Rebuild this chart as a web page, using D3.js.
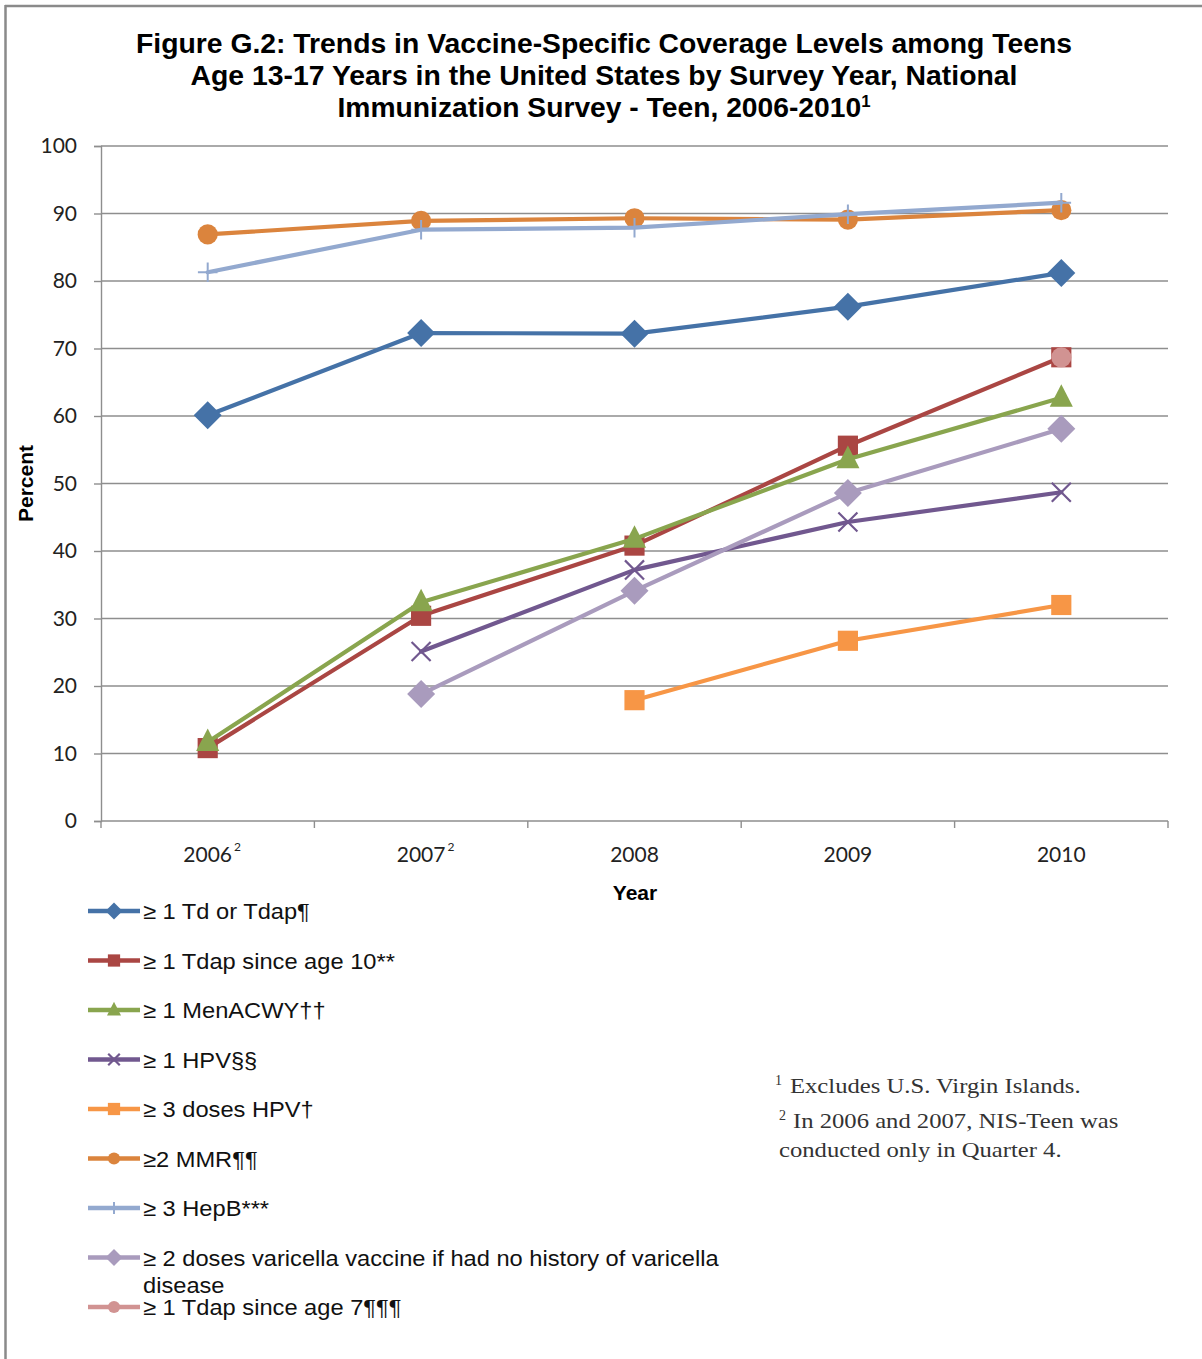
<!DOCTYPE html>
<html>
<head>
<meta charset="utf-8">
<script src="https://cdn.jsdelivr.net/npm/d3@7"></script>
<style>
  html, body { margin: 0; padding: 0; background: #fff; }
  svg { display: block; }
</style>
</head>
<body>
<svg id="chart" width="1202" height="1359"></svg>
<script>
// ---------------- DATA ----------------
const years = ["2006", "2007", "2008", "2009", "2010"];
const yearSup = ["2", "2", "", "", ""];
const yTicks = [0, 10, 20, 30, 40, 50, 60, 70, 80, 90, 100];

const seriesNames = [
  "\u2265 1 Td or Tdap\u00B6",
  "\u2265 1 Tdap since age 10**",
  "\u2265 1 MenACWY\u2020\u2020",
  "\u2265 1 HPV\u00A7\u00A7",
  "\u2265 3 doses HPV\u2020",
  "\u22652 MMR\u00B6\u00B6",
  "\u2265 3 HepB***",
  "\u2265 2 doses varicella vaccine if had no history of varicella disease",
  "\u2265 1 Tdap since age 7\u00B6\u00B6\u00B6"
];
const tdTdap    = [60.1, 72.3, 72.2, 76.2, 81.2];
const tdap10    = [10.8, 30.4, 40.8, 55.6, 68.7];
const menacwy   = [11.7, 32.4, 41.8, 53.6, 62.7];
const hpv1      = [null, 25.1, 37.2, 44.3, 48.7];
const hpv3      = [null, null, 17.9, 26.7, 32.0];
const mmr       = [86.9, 88.9, 89.3, 89.1, 90.5];
const hepb      = [81.3, 87.6, 87.9, 89.9, 91.6];
const varicella = [null, 18.8, 34.1, 48.6, 58.1];
const tdap7     = [null, null, null, null, 68.7];

const seriesValues = [tdTdap, tdap10, menacwy, hpv1, hpv3, mmr, hepb, varicella, tdap7];
const seriesColors = ["#4572A7", "#AA4643", "#89A54E", "#71588F", "#F79646", "#DB843D", "#93A9CF", "#A99BBD", "#D19392"];
const seriesMarkers = ["diamond", "square", "triangle", "x", "square", "circle", "plus", "diamond", "circle"];

const titleLines = [
  "Figure G.2: Trends in Vaccine-Specific Coverage Levels among Teens",
  "Age 13-17 Years in the United States by Survey Year, National",
  "Immunization Survey - Teen, 2006-2010"
];

const footnoteLines = [
  "Excludes U.S. Virgin Islands.",
  "In 2006 and 2007, NIS-Teen was",
  "conducted only in Quarter 4."
];

// ---------------- LAYOUT ----------------
const svg = d3.select("#chart");
const plot = { left: 101, right: 1168, top: 146, bottom: 821 };

const x = d3.scaleBand().domain(years).range([plot.left, plot.right]).paddingInner(0).paddingOuter(0);
const y = d3.scaleLinear().domain([0, 100]).range([plot.bottom, plot.top]);

function stretch(sel, k) {
  const w = sel.node().getComputedTextLength();
  sel.attr("textLength", w * k).attr("lengthAdjust", "spacingAndGlyphs");
}

// frame (top + left border)
svg.append("line").attr("x1", 5).attr("x2", 1202).attr("y1", 6).attr("y2", 6)
  .attr("stroke", "#8a8a8a").attr("stroke-width", 2.5);
svg.append("line").attr("x1", 5.5).attr("x2", 5.5).attr("y1", 5).attr("y2", 1359)
  .attr("stroke", "#8a8a8a").attr("stroke-width", 2.5);

// title
const titleFont = "'Liberation Sans', Arial, sans-serif";
const titleWidths = [936, 827, 533];
titleLines.forEach((t, i) => {
  const tx = svg.append("text")
    .attr("x", 604).attr("y", 53 + i * 32)
    .attr("text-anchor", "middle")
    .attr("font-family", titleFont)
    .attr("font-weight", "bold")
    .attr("font-size", 27)
    .attr("fill", "#000")
    .attr("textLength", titleWidths[i])
    .attr("lengthAdjust", "spacingAndGlyphs")
    .text(t);
  if (i === 2) {
    tx.append("tspan").attr("font-size", 16).attr("dy", -10).text("1");
  }
});

// gridlines
const grid = svg.append("g");
grid.selectAll("line").data(yTicks.filter(d => d > 0)).join("line")
  .attr("x1", plot.left).attr("x2", plot.right)
  .attr("y1", d => y(d)).attr("y2", d => y(d))
  .attr("stroke", "#8e8e8e").attr("stroke-width", 1.4);

// Y axis
const tickFont = "Lato, 'Open Sans', sans-serif";
const yAxis = svg.append("g").attr("transform", `translate(${plot.left},0)`)
  .call(d3.axisLeft(y).tickValues(yTicks).tickSize(7).tickPadding(17));
yAxis.select(".domain").attr("stroke", "#8e8e8e").attr("stroke-width", 1.4);
yAxis.selectAll(".tick line").attr("stroke", "#8e8e8e").attr("stroke-width", 1.4);
yAxis.selectAll(".tick text").attr("font-family", tickFont).attr("font-size", 21).attr("fill", "#222");

// X axis
const xEdges = years.map(d => x(d)).concat([plot.right]);
const xAxisG = svg.append("g");
xAxisG.append("line").attr("x1", plot.left).attr("x2", plot.right)
  .attr("y1", plot.bottom).attr("y2", plot.bottom)
  .attr("stroke", "#8e8e8e").attr("stroke-width", 1.4);
xAxisG.selectAll("line.tk").data(xEdges).join("line").attr("class", "tk")
  .attr("x1", d => d).attr("x2", d => d)
  .attr("y1", plot.bottom).attr("y2", plot.bottom + 7)
  .attr("stroke", "#8e8e8e").attr("stroke-width", 1.4);
years.forEach((yr, i) => {
  const cx = x(yr) + x.bandwidth() / 2;
  const t = xAxisG.append("text")
    .attr("x", cx).attr("y", 862)
    .attr("text-anchor", "middle")
    .attr("font-family", tickFont).attr("font-size", 21).attr("fill", "#222")
    .text(yr);
  if (yearSup[i]) {
    const w = t.node().getComputedTextLength();
    xAxisG.append("text")
      .attr("x", cx + w / 2 + 2).attr("y", 851)
      .attr("font-family", tickFont).attr("font-size", 12).attr("fill", "#222")
      .text(yearSup[i]);
  }
});

// axis titles
svg.append("text").attr("x", 635).attr("y", 900).attr("text-anchor", "middle")
  .attr("font-family", titleFont).attr("font-weight", "bold").attr("font-size", 21).text("Year");
svg.append("text").attr("transform", `translate(33,${(plot.top + plot.bottom) / 2}) rotate(-90)`)
  .attr("text-anchor", "middle")
  .attr("font-family", titleFont).attr("font-weight", "bold").attr("font-size", 21).text("Percent");

// ---------------- MARKERS ----------------
function drawMarker(g, type, cx, cy, s, color) {
  const h = s / 2;
  if (type === "diamond") {
    g.append("path").attr("d", `M${cx},${cy - h}L${cx + h},${cy}L${cx},${cy + h}L${cx - h},${cy}Z`).attr("fill", color);
  } else if (type === "square") {
    const q = h * 0.72;
    g.append("rect").attr("x", cx - q).attr("y", cy - q).attr("width", 2 * q).attr("height", 2 * q).attr("fill", color);
  } else if (type === "triangle") {
    const q = h * 0.75;
    g.append("path").attr("d", `M${cx},${cy - q * 1.3}L${cx + q * 1.1},${cy + q * 0.85}L${cx - q * 1.1},${cy + q * 0.85}Z`).attr("fill", color);
  } else if (type === "circle") {
    g.append("circle").attr("cx", cx).attr("cy", cy).attr("r", h * 0.72).attr("fill", color);
  } else if (type === "x") {
    const q = h * 0.68;
    g.append("path").attr("d", `M${cx - q},${cy - q}L${cx + q},${cy + q}M${cx - q},${cy + q}L${cx + q},${cy - q}`)
      .attr("stroke", color).attr("stroke-width", 2.2).attr("fill", "none");
  } else if (type === "plus") {
    const q = h * 0.7;
    g.append("path").attr("d", `M${cx - q},${cy}L${cx + q},${cy}M${cx},${cy - q}L${cx},${cy + q}`)
      .attr("stroke", color).attr("stroke-width", 2).attr("fill", "none");
  }
}

// ---------------- SERIES ----------------
const line = d3.line()
  .defined(d => d.v !== null)
  .x(d => x(d.yr) + x.bandwidth() / 2)
  .y(d => y(d.v));

const seriesG = svg.append("g");
seriesValues.forEach((vals, si) => {
  const pts = vals.map((v, i) => ({ yr: years[i], v }));
  const g = seriesG.append("g");
  g.append("path").attr("d", line(pts)).attr("fill", "none")
    .attr("stroke", seriesColors[si]).attr("stroke-width", 4.2)
    .attr("stroke-linejoin", "round").attr("stroke-linecap", "round");
  pts.filter(p => p.v !== null).forEach(p => {
    drawMarker(g, seriesMarkers[si], x(p.yr) + x.bandwidth() / 2, y(p.v), 28, seriesColors[si]);
  });
});

// ---------------- LEGEND ----------------
const legendFont = "'Liberation Sans', Arial, sans-serif";
const legend = svg.append("g");
const rowY0 = 911, rowStep = 49.5, legendStretch = 1.075;
seriesNames.forEach((name, i) => {
  const cy = rowY0 + i * rowStep;
  const g = legend.append("g");
  g.append("line").attr("x1", 88).attr("x2", 140).attr("y1", cy).attr("y2", cy)
    .attr("stroke", seriesColors[i]).attr("stroke-width", 4.5);
  drawMarker(g, seriesMarkers[i], 114, cy, 17, seriesColors[i]);
  if (i === 7) {
    const words = name.split(" ");
    const first = words.slice(0, -1).join(" ");
    const last = words[words.length - 1];
    const t1 = g.append("text").attr("x", 143).attr("y", cy + 8)
      .attr("font-family", legendFont).attr("font-size", 22).attr("fill", "#111").text(first);
    stretch(t1, legendStretch);
    const t2 = g.append("text").attr("x", 143).attr("y", cy + 35)
      .attr("font-family", legendFont).attr("font-size", 22).attr("fill", "#111").text(last);
    stretch(t2, legendStretch);
  } else {
    const t = g.append("text").attr("x", 143).attr("y", cy + 8)
      .attr("font-family", legendFont).attr("font-size", 22).attr("fill", "#111").text(name);
    stretch(t, legendStretch);
  }
});

// ---------------- FOOTNOTES ----------------
const noteFont = "'Liberation Serif', 'DejaVu Serif', serif";
const notes = svg.append("g").attr("font-family", noteFont).attr("fill", "#333");
const noteStretch = 1.12;
notes.append("text").attr("x", 775).attr("y", 1085).attr("font-size", 14).text("1");
stretch(notes.append("text").attr("x", 790).attr("y", 1093).attr("font-size", 22).text(footnoteLines[0]), noteStretch);
notes.append("text").attr("x", 779).attr("y", 1120).attr("font-size", 14).text("2");
stretch(notes.append("text").attr("x", 793).attr("y", 1128).attr("font-size", 22).text(footnoteLines[1]), noteStretch);
stretch(notes.append("text").attr("x", 779).attr("y", 1157).attr("font-size", 22).text(footnoteLines[2]), noteStretch);
</script>
</body>
</html>
